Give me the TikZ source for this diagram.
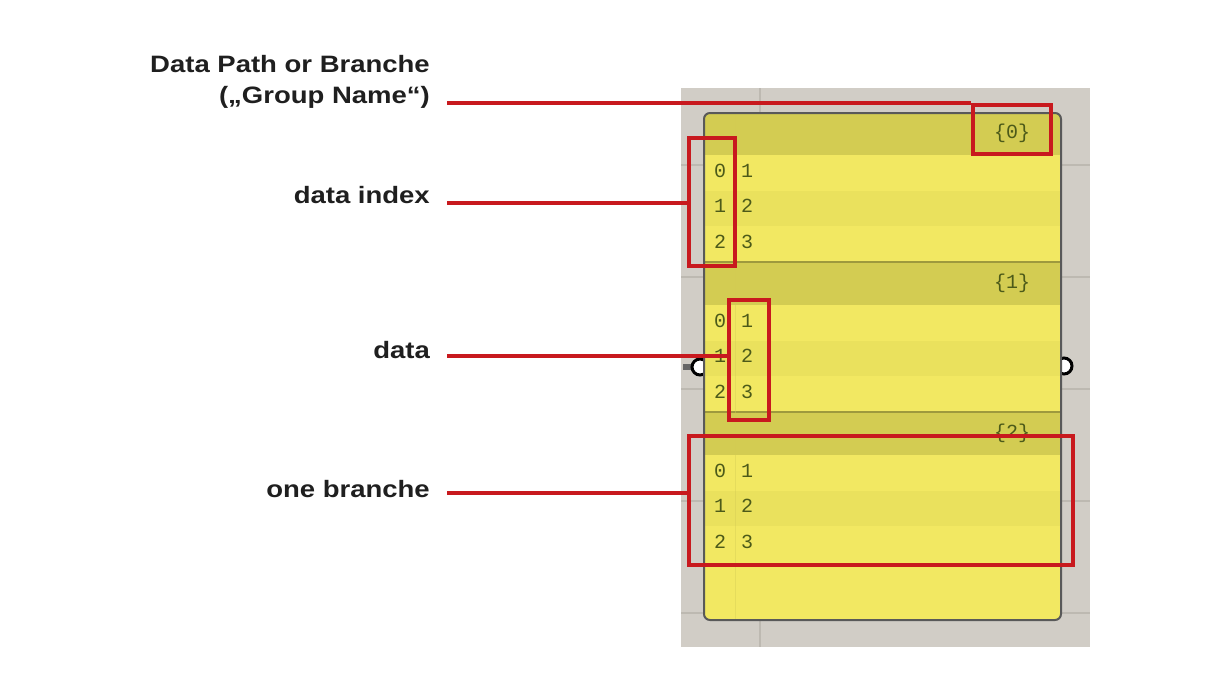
\documentclass[tikz,border=0pt]{standalone}
\usepackage{fontspec}
\usetikzlibrary{positioning,calc}
\newfontfamily\lblfont[FakeStretch=1.16]{Liberation Sans}
\newfontfamily\ghfont{Liberation Mono}
\definecolor{cred}{HTML}{C8191E}
\definecolor{cgray}{HTML}{D1CDC6}
\definecolor{cgrid}{HTML}{BDB9B1}
\definecolor{cyel}{HTML}{F2E862}
\definecolor{cyelm}{HTML}{EAE15D}
\definecolor{chead}{HTML}{D3CC52}
\definecolor{cdig}{HTML}{4C5A19}

\begin{document}
\begin{tikzpicture}[x=1pt,y=-1pt]
  \tikzstyle{lbl}=[font=\lblfont\bfseries\fontsize{23.7}{31}\selectfont,text=black!88,align=right,anchor=base east,inner sep=0]
  \tikzstyle{dig}=[font=\ghfont\fontsize{20}{20}\selectfont,text=cdig,anchor=base,inner sep=0]
  \tikzstyle{hl}=[draw=cred,line width=4pt,inner sep=0]
  \tikzstyle{lead}=[draw=cred,line width=4pt]
  \useasboundingbox[fill=white] (0,0) rectangle (1206,675);

  % canvas behind the component
  \fill[cgray] (681,88) rectangle (1090,647);
  \foreach \y in {165,277,389,501,613}
    \draw[cgrid,line width=1.5pt] (681,\y) -- (1090,\y);
  \draw[cgrid,line width=1.5pt] (760,88) -- (760,647);

  % ports
  \fill[black!60] (683,364) rectangle (692,370);
  \draw[line width=3pt,fill=white] (700,367) circle (8);
  \draw[line width=3pt,fill=white] (1064,366) circle (8);

  % component
  \begin{scope}
    \clip[rounded corners=6] (704,113) rectangle (1061,620);
    \fill[cyel] (704,113) rectangle (1061,620);
    \foreach \s/\t in {0/112,1/262,2/412} {
      \fill[chead] (704,\t) rectangle (1061,\t+43);
      \fill[cyelm] (704,\t+43+107/3) rectangle (1061,\t+43+214/3);
      \node[dig] (h\s) at (1012,\t+26) {\{\s\}};
      \foreach \i/\v in {0/1,1/2,2/3} {
        \node[dig] (i\s\i) at (720,\t+43+\i*107/3+22) {\i};
        \node[dig] (v\s\i) at (747,\t+43+\i*107/3+22) {\v};
      }
    }
    \draw[black!25!chead,line width=1.5pt] (704,262) -- (1061,262) (704,412) -- (1061,412);
    \draw[cyelm!90!black,line width=1pt,opacity=.4] (735,113) -- (735,620);
  \end{scope}
  \draw[black!65,line width=2pt,rounded corners=6] (704,113) rectangle (1061,620);

  % highlight boxes
  \node[hl,minimum width=78,minimum height=49] (bpth) at (1012,129.5) {};
  \node[hl,minimum width=46,minimum height=128] (bidx) at (712,202) {};
  \node[hl,minimum width=40,minimum height=120] (bdat) at (749,360) {};
  \node[hl,minimum width=384,minimum height=129] (bbrn) at (881,500.5) {};

  % labels
  \node[lbl] (pth) at (430,103) {Data Path or Branche\\(„Group Name“)};
  \node[lbl] (idx) at (430,203) {data index};
  \node[lbl] (dat) at (430,358) {data};
  \node[lbl] (brn) at (430,497) {one branche};
  \coordinate (cpth) at (447,102.5);
  \coordinate (cidx) at (447,202.5);
  \coordinate (cdat) at (447,356);
  \coordinate (cbrn) at (447,493);
  \draw[lead] (cpth) -- (cpth -| bpth.west);
  \draw[lead] (cidx) -- (cidx -| bidx.west);
  \draw[lead] (cdat) -- (cdat -| bdat.west);
  \draw[lead] (cbrn) -- (cbrn -| bbrn.west);
\end{tikzpicture}
\end{document}
